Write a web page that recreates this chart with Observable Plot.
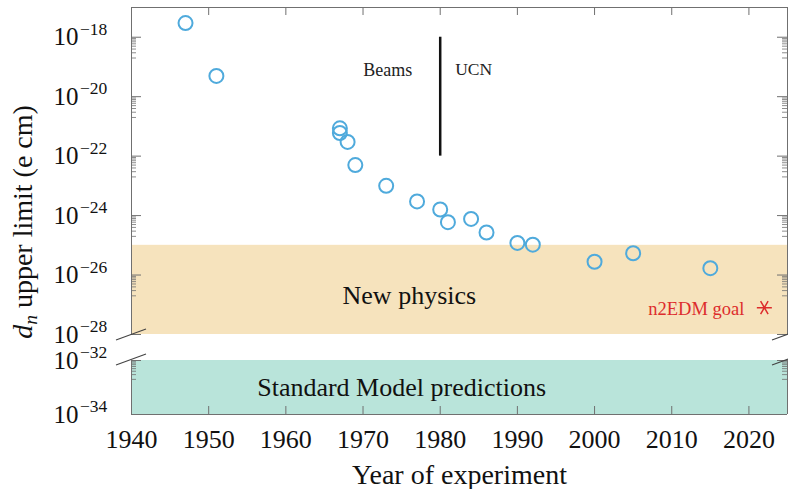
<!DOCTYPE html>
<html>
<head>
<meta charset="utf-8">
<script src="https://cdn.jsdelivr.net/npm/d3@7"></script>
<script src="https://cdn.jsdelivr.net/npm/@observablehq/plot@0.6"></script>
<style>
  body { margin: 0; background: #fff; }
  #chart { position: relative; width: 788px; height: 489px; font-family: 'Liberation Serif', 'Times New Roman', serif; }
  #chart svg { display: block; overflow: visible; }
  #ylabel { position: absolute; left: 25px; top: 222px; transform: translate(-50%, -50%) rotate(-90deg);
            white-space: nowrap; font-size: 28px; color: #111; line-height: 1; }
  #ylabel sub { font-size: 0.7em; vertical-align: -0.25em; }
</style>
</head>
<body>
<div id="chart">
  <div id="ylabel"><i>d</i><sub><i>n</i></sub> upper limit (e cm)</div>
</div>
<script>
// ---- data ----
const years  = [1947, 1951, 1967, 1967, 1968, 1969, 1973, 1977, 1980, 1981, 1984, 1986, 1990, 1992, 2000, 2005, 2015];
const limits = [3e-18, 5e-20, 8.6e-22, 6e-22, 3e-22, 5e-23, 1e-23, 3e-24, 1.6e-24, 6e-25, 7.7e-25, 2.7e-25, 1.2e-25, 1.05e-25, 2.8e-26, 5.4e-26, 1.7e-26];
const goalYear = [2022];
const goalLimit = [8e-28];
const goalLabel = ["n2EDM goal"];

const xDomain = [1940, 2025];
const xTicks = [1940, 1950, 1960, 1970, 1980, 1990, 2000, 2010, 2020];
const yTopDomain = [1e-28, 1e-17];
const yBottomDomain = [1e-34, 1e-32];
const yTopLabels = [1e-18, 1e-20, 1e-22, 1e-24, 1e-26, 1e-28];
const yBottomLabels = [1e-32, 1e-34];

const bandNames = ["New physics", "Standard Model predictions"];
const bandLow = [1e-28, 1e-34];
const bandHigh = [1e-25, 1e-32];
const bandLabelYear = [1976, 1975];
const bandLabelValue = [2e-27, 1e-33];

const dividerYear = [1980];
const dividerLow = [1e-22];
const dividerHigh = [1e-18];
const dividerLabelValue = [8e-20];
const dividerLeftText = ["Beams"];
const dividerRightText = ["UCN"];

// ---- tables ----
const points = years.map((y, i) => ({year: y, limit: limits[i]}));
const goal = goalYear.map((y, i) => ({year: y, limit: goalLimit[i], label: goalLabel[i]}));
const bands = bandNames.map((n, i) => ({label: n, lo: bandLow[i], hi: bandHigh[i], lx: bandLabelYear[i], ly: bandLabelValue[i]}));
const divider = dividerYear.map((y, i) => ({year: y, lo: dividerLow[i], hi: dividerHigh[i], ly: dividerLabelValue[i], left: dividerLeftText[i], right: dividerRightText[i]}));

// minor ticks: 2..9 x 10^(e-1) just below each labelled decade, inside the domain
function minorTicks(labels, domain) {
  const out = [];
  for (const l of labels) {
    const e = Math.round(Math.log10(l));
    for (let m = 2; m <= 9; m++) {
      const v = m * Math.pow(10, e - 1);
      if (v >= domain[0] && v <= domain[1]) out.push(v);
    }
  }
  return out;
}
const supText = d => "\u2212" + Math.round(-Math.log10(d));

// ---- style ----
const W = 788, ML = 131, MR = 1;
const PW = W - ML - MR;
const FONT = "'Liberation Serif', 'Times New Roman', serif";
const GREY = "#707070";
const ORANGE = "#F6E3BD";
const TEAL = "#B9E4DA";
const BLUE = "#4FAADC";
const RED = "#DD2C2C";

// six-armed asterisk with a horizontal arm
const asterisk6 = {
  draw(context, size) {
    const r = Math.sqrt(size / Math.PI);
    for (const a of [0, Math.PI / 3, 2 * Math.PI / 3]) {
      const c = Math.cos(a) * r, s = Math.sin(a) * r;
      context.moveTo(-c, -s); context.lineTo(c, s);
    }
  }
};

function yTickMarks(domain, labelled) {
  const minor = minorTicks(labelled, domain);
  return [
    Plot.tickY(labelled, {y: d => d, stroke: GREY, strokeWidth: 1, insetRight: PW - 10}),
    Plot.tickY(labelled, {y: d => d, stroke: GREY, strokeWidth: 1, insetLeft: PW - 10}),
    Plot.tickY(minor, {y: d => d, stroke: GREY, strokeWidth: 0.8, insetRight: PW - 5}),
    Plot.tickY(minor, {y: d => d, stroke: GREY, strokeWidth: 0.8, insetLeft: PW - 5})
  ];
}
function yLabelMarks(labels) {
  return [
    Plot.text(labels, {y: d => d, text: () => "10", frameAnchor: "left", textAnchor: "end", dx: -53, fontSize: 25, fill: "#111"}),
    Plot.text(labels, {y: d => d, text: supText, frameAnchor: "left", textAnchor: "start", dx: -51.5, dy: -8, fontSize: 17.5, fill: "#111"})
  ];
}

// ---- top panel ----
const TOP_H = 347, TOP_MT = 7, TOP_MB = 13;
const topPlotH = TOP_H - TOP_MT - TOP_MB;
const topChart = Plot.plot({
  width: W, height: TOP_H, marginLeft: ML, marginRight: MR, marginTop: TOP_MT, marginBottom: TOP_MB,
  style: {fontFamily: FONT, background: "transparent", overflow: "visible"},
  x: {domain: xDomain, axis: null},
  y: {type: "log", domain: yTopDomain, axis: null},
  marks: [
    Plot.rect(bands.slice(0, 1), {y1: "lo", y2: "hi", fill: ORANGE}),
    ...yTickMarks(yTopDomain, yTopLabels),
    Plot.tickX(xTicks, {x: d => d, stroke: GREY, insetBottom: topPlotH - 8}),
    Plot.ruleX(xDomain, {stroke: GREY, strokeWidth: 1}),
    Plot.ruleY([yTopDomain[1]], {stroke: GREY, strokeWidth: 1}),
    ...yLabelMarks(yTopLabels),
    Plot.ruleX(divider, {x: "year", y1: "lo", y2: "hi", stroke: "#111", strokeWidth: 2.5}),
    Plot.text(divider, {x: "year", y: "ly", text: "left", textAnchor: "end", dx: -28, fontSize: 18, fill: "#222"}),
    Plot.text(divider, {x: "year", y: "ly", text: "right", textAnchor: "start", dx: 15, fontSize: 17.5, fill: "#222"}),
    Plot.text(bands.slice(0, 1), {x: "lx", y: "ly", text: "label", fontSize: 26, fill: "#111"}),
    Plot.dot(points, {x: "year", y: "limit", r: 7, stroke: BLUE, strokeWidth: 2, fill: "none"}),
    Plot.dot(goal, {x: "year", y: "limit", symbol: asterisk6, r: 7.5, stroke: RED, strokeWidth: 1.5}),
    Plot.text(goal, {x: "year", y: "limit", text: "label", textAnchor: "end", dx: -20, dy: 1, fontSize: 18.5, fill: RED})
  ]
});

// ---- bottom panel ----
const BOT_H = 489 - TOP_H, BOT_MT = 13, BOT_MB = 75;
const botPlotH = BOT_H - BOT_MT - BOT_MB;
const botChart = Plot.plot({
  width: W, height: BOT_H, marginLeft: ML, marginRight: MR, marginTop: BOT_MT, marginBottom: BOT_MB,
  style: {fontFamily: FONT, background: "transparent", overflow: "visible"},
  x: {domain: xDomain},
  y: {type: "log", domain: yBottomDomain, axis: null},
  marks: [
    Plot.rect(bands.slice(1), {y1: "lo", y2: "hi", fill: TEAL}),
    ...yTickMarks(yBottomDomain, yBottomLabels),
    Plot.tickX(xTicks, {x: d => d, stroke: GREY, insetTop: botPlotH - 8}),
    Plot.ruleX(xDomain, {stroke: GREY, strokeWidth: 1}),
    Plot.ruleY([yBottomDomain[0]], {stroke: GREY, strokeWidth: 1}),
    ...yLabelMarks(yBottomLabels),
    Plot.text(bands.slice(1), {x: "lx", y: "ly", text: "label", fontSize: 26, fill: "#111"}),
    Plot.axisX({ticks: xTicks, tickSize: 0, tickPadding: 15, fontSize: 26, tickFormat: d => String(d), label: null, fill: "#111"}),
    Plot.text(["Year of experiment"], {frameAnchor: "bottom", dy: 69, fontSize: 28, fill: "#111"})
  ]
});

// ---- axis-break marks, placed through the scales ----
function addBreaks(chart, yValue, dyA, dyB) {
  const xs = chart.scale("x"), ys = chart.scale("y");
  const y0 = ys.apply(yValue);
  const svg = d3.select(chart.tagName.toLowerCase() === "svg" ? chart : chart.querySelector("svg"));
  for (const xv of xDomain) {
    const x0 = xs.apply(xv);
    svg.append("line")
      .attr("x1", x0 - 15).attr("y1", y0 + dyA)
      .attr("x2", x0 + 15).attr("y2", y0 + dyB)
      .attr("stroke", "#444").attr("stroke-width", 1.1);
  }
}
addBreaks(topChart, yTopDomain[0], 6, -5);
addBreaks(botChart, yBottomDomain[1], 5, -6);

const host = document.getElementById("chart");
host.appendChild(topChart);
host.appendChild(botChart);
</script>
</body>
</html>
